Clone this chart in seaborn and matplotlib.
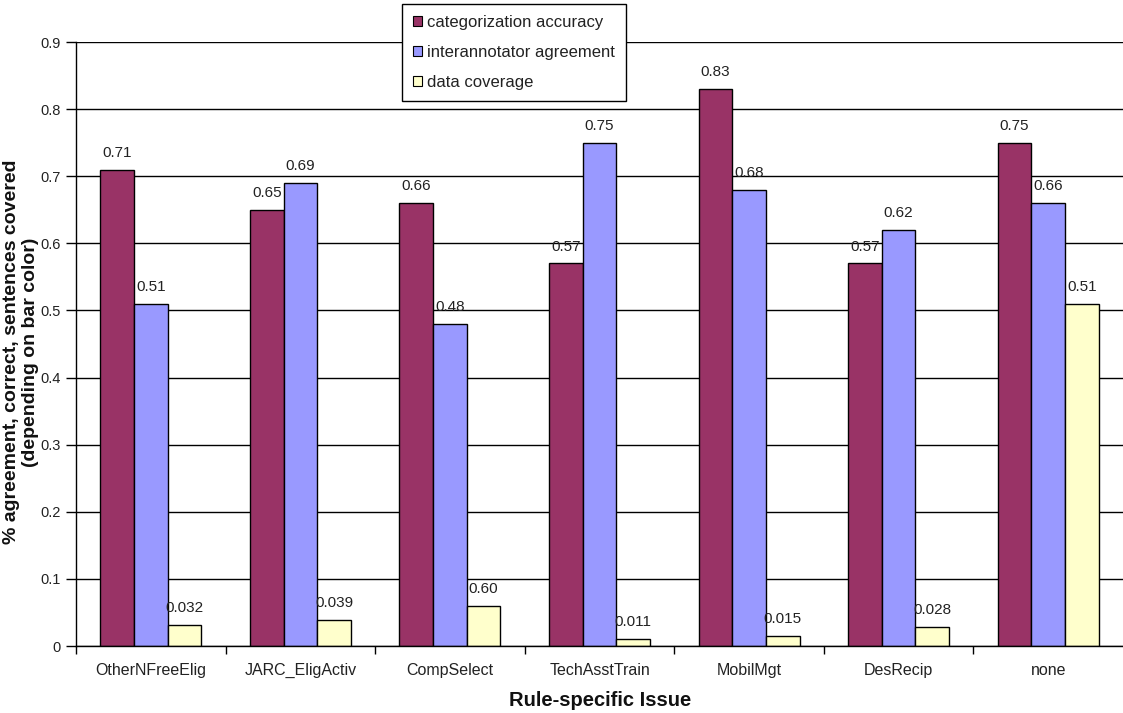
import matplotlib
matplotlib.use("Agg")
import matplotlib.pyplot as plt
from matplotlib.patches import Patch
from matplotlib.ticker import FixedLocator
import seaborn as sns
import pandas as pd

categories = ["OtherNFreeElig", "JARC_EligActiv", "CompSelect", "TechAsstTrain",
              "MobilMgt", "DesRecip", "none"]
series_names = ["categorization accuracy", "interannotator agreement", "data coverage"]
cat_accuracy = [0.71, 0.65, 0.66, 0.57, 0.83, 0.57, 0.75]
inter_agreement = [0.51, 0.69, 0.48, 0.75, 0.68, 0.62, 0.66]
data_coverage = [0.032, 0.039, 0.06, 0.011, 0.015, 0.028, 0.51]
acc_labels = ["0.71", "0.65", "0.66", "0.57", "0.83", "0.57", "0.75"]
agr_labels = ["0.51", "0.69", "0.48", "0.75", "0.68", "0.62", "0.66"]
cov_labels = ["0.032", "0.039", "0.60", "0.011", "0.015", "0.028", "0.51"]
y_ticks = [0, 0.1, 0.2, 0.3, 0.4, 0.5, 0.6, 0.7, 0.8, 0.9]
y_tick_labels = ["0", "0.1", "0.2", "0.3", "0.4", "0.5", "0.6", "0.7", "0.8", "0.9"]
colors = ["#993366", "#9999FF", "#FFFFCC"]

sns.set_theme(style="white")
plt.rcParams["font.family"] = ["Liberation Sans", "DejaVu Sans"]

df = pd.DataFrame({
    "issue": categories * 3,
    "series": sum([[s] * len(categories) for s in series_names], []),
    "value": cat_accuracy + inter_agreement + data_coverage,
})

fig = plt.figure(figsize=(11.23, 7.13), dpi=100)
ax = fig.add_axes([76 / 1123, 1 - 646 / 713, 1 - 76 / 1123, (646 - 42) / 713])

sns.barplot(data=df, x="issue", y="value", hue="series", order=categories,
            hue_order=series_names, palette=colors, width=0.675, gap=0,
            saturation=1, edgecolor="black", linewidth=1, legend=False, ax=ax,
            errorbar=None)

ax.set_xlim(-0.5, 6.5)
ax.set_ylim(0, 0.9)
ax.set_yticks(y_ticks)
ax.set_yticklabels(y_tick_labels)
ax.grid(axis="y", color="black", linewidth=1)
ax.grid(axis="x", visible=False)
ax.set_axisbelow(True)
for s in ["top", "right"]:
    ax.spines[s].set_visible(False)
for s in ["left", "bottom"]:
    ax.spines[s].set_color("black")
    ax.spines[s].set_linewidth(1)

ax.tick_params(axis="y", which="major", direction="out", length=7, width=1,
               color="black", left=True, pad=4, labelsize=10.5, labelcolor="#222222")
ax.tick_params(axis="x", which="major", length=0, pad=12, labelsize=11.5,
               labelcolor="#222222")
ax.xaxis.set_minor_locator(FixedLocator([-0.5, 0.5, 1.5, 2.5, 3.5, 4.5, 5.5]))
ax.tick_params(axis="x", which="minor", direction="out", length=6, width=1,
               color="black", bottom=True)

for cont, labs in zip(ax.containers, [acc_labels, agr_labels, cov_labels]):
    ax.bar_label(cont, labels=labs, padding=7, fontsize=11, color="#222222")

ax.set_xlabel("")
ax.set_ylabel("% agreement, correct, sentences covered\n(depending on bar color)",
              fontsize=14, fontweight="bold", color="#111111", linespacing=1.15)
ax.yaxis.set_label_coords(-0.0355, 0.487)
fig.text(600 / 1123, 1 - 700 / 713, "Rule-specific Issue", ha="center", va="center",
         fontsize=14.5, fontweight="bold", color="#111111")

handles = [Patch(facecolor=c, edgecolor="black", linewidth=0.8) for c in colors]
leg = fig.legend(handles, series_names, loc="upper center",
                 bbox_to_anchor=(514 / 1123, 1 - 4 / 713), frameon=True,
                 fancybox=False, framealpha=1, edgecolor="black", fontsize=12,
                 handlelength=0.55, handleheight=0.55, handletextpad=0.3,
                 labelspacing=0.9, borderpad=0.65, borderaxespad=0)
leg.get_frame().set_linewidth(1)
for t in leg.get_texts():
    t.set_color("#222222")

fig.savefig("out.png", dpi=100)
